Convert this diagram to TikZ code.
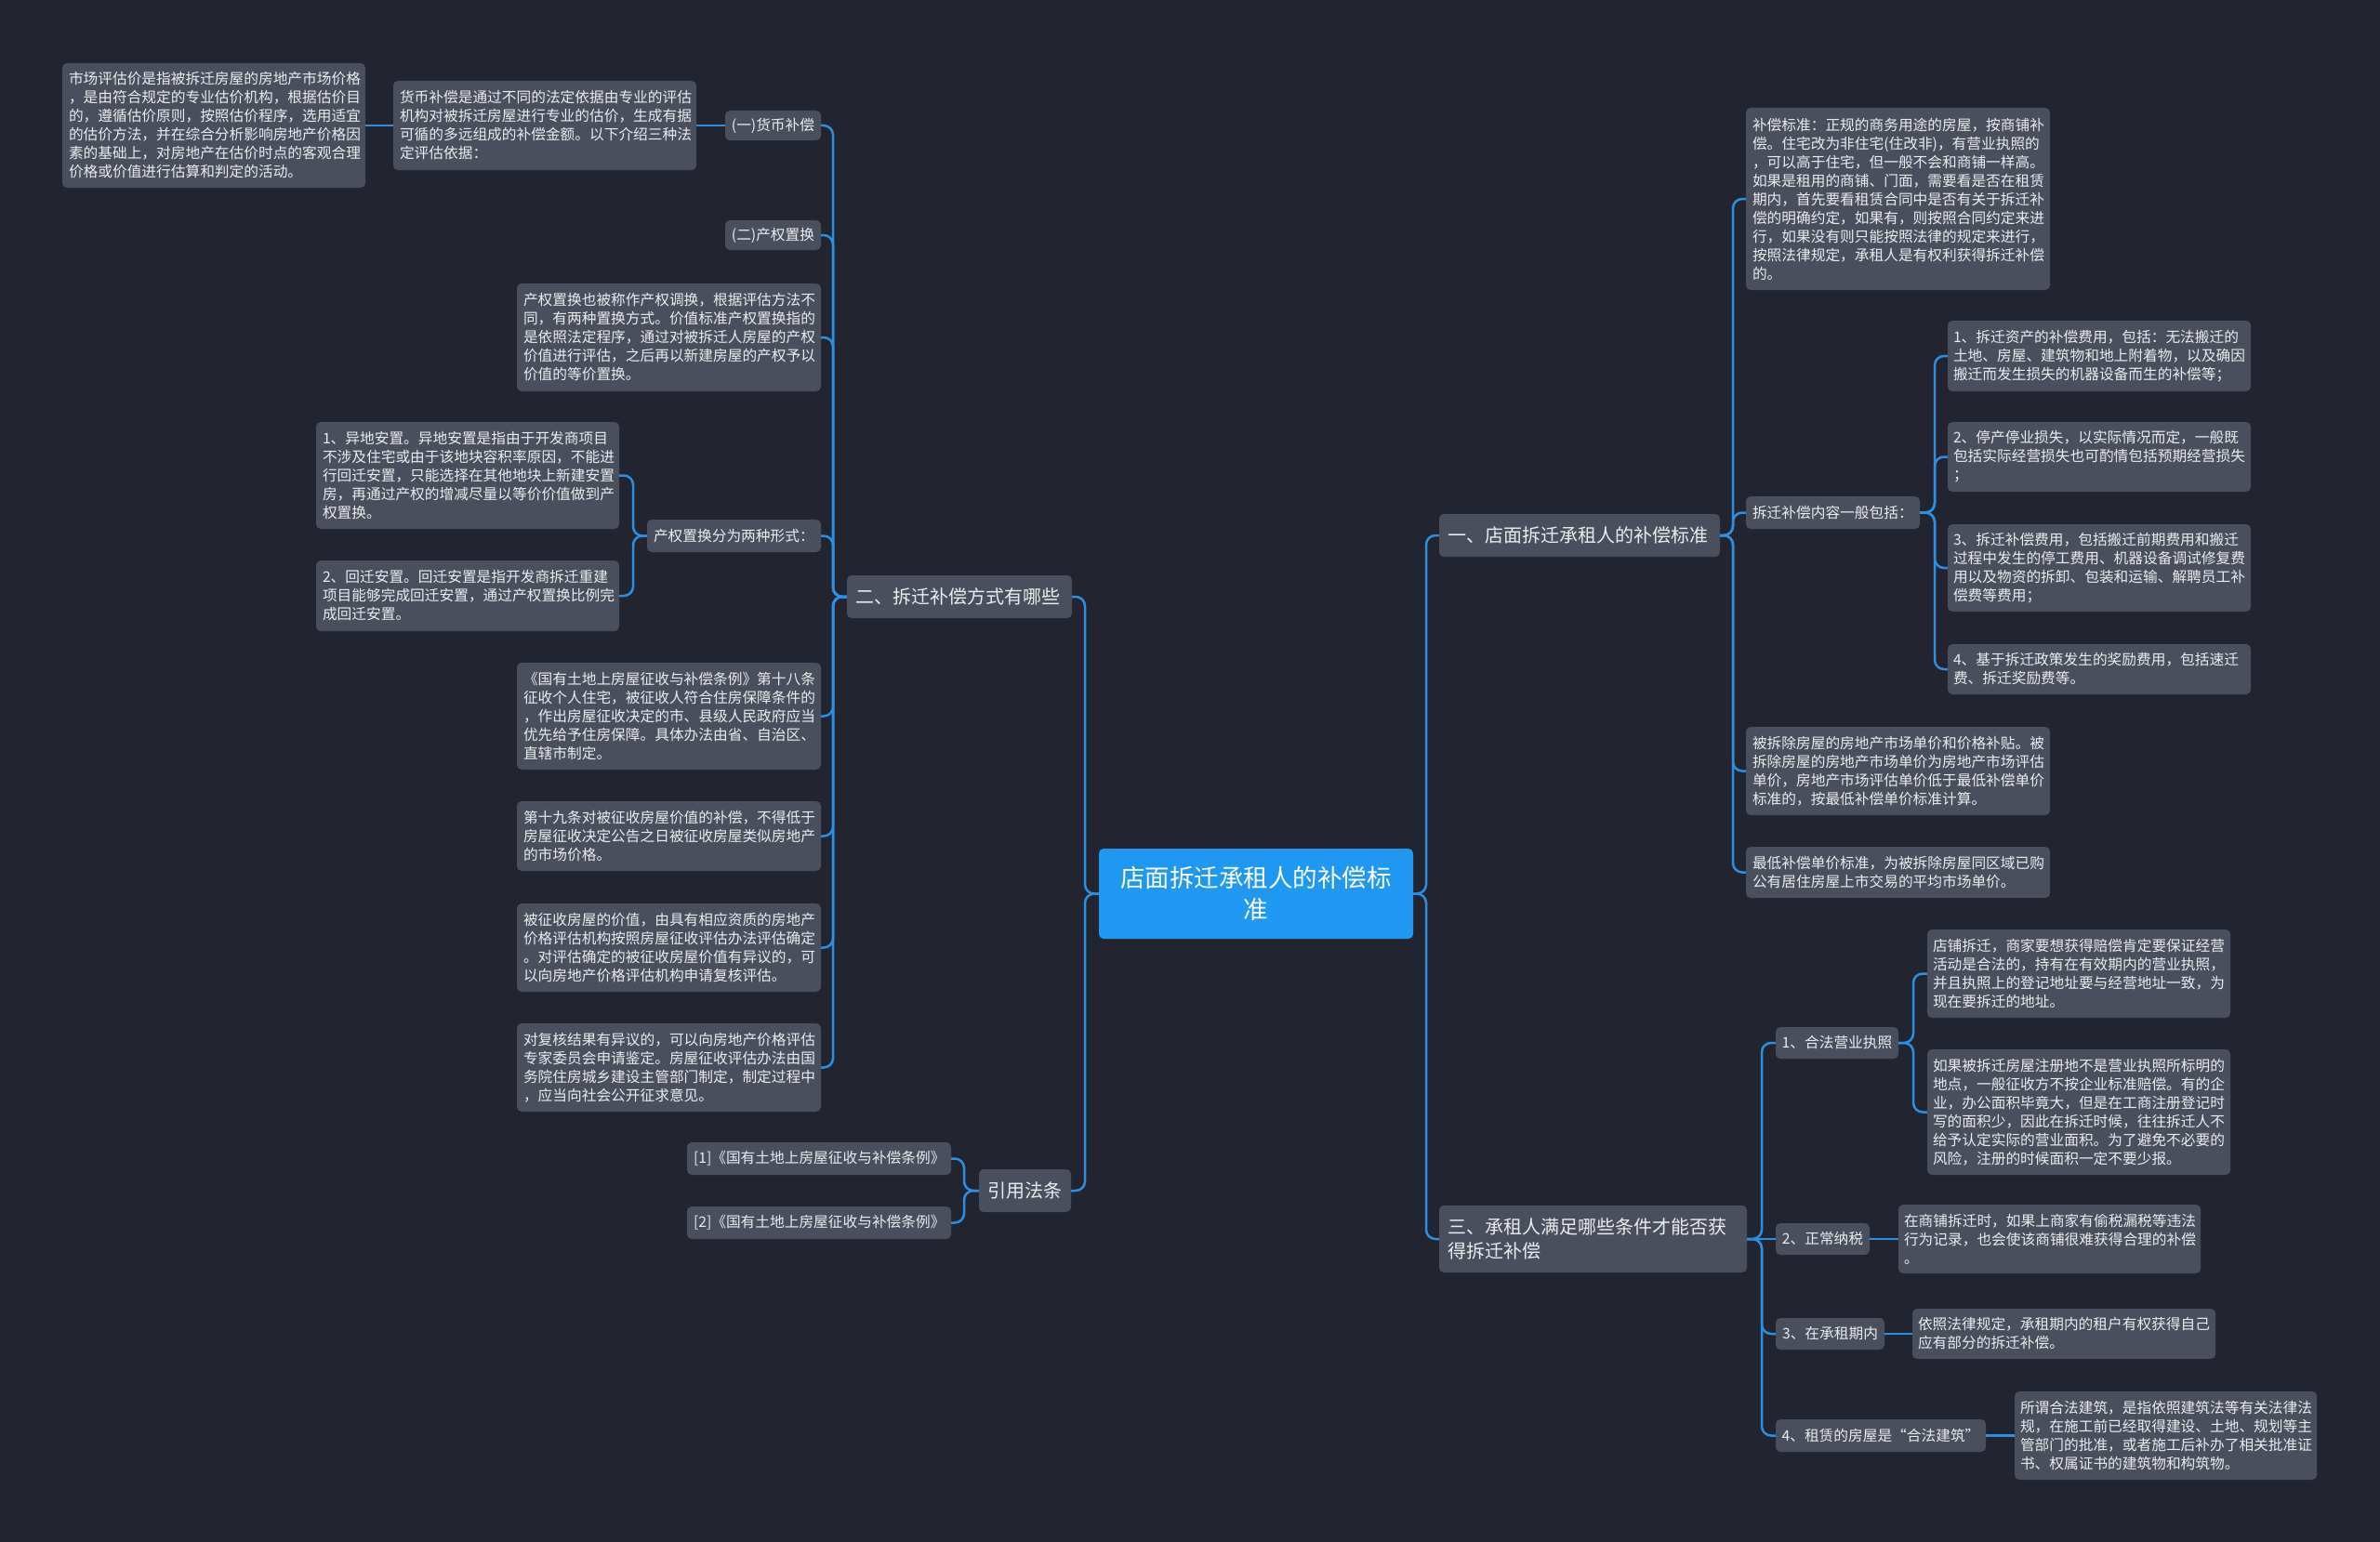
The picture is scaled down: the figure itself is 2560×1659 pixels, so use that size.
\documentclass[tikz,border=0pt]{standalone}
\usepackage{fontspec}
\newfontfamily\cjk{Noto Sans CJK SC}
\definecolor{bgc}{RGB}{34,37,47}
\definecolor{boxc}{RGB}{74,79,93}
\definecolor{linec}{RGB}{43,143,227}
\definecolor{ctrc}{RGB}{30,152,240}
\definecolor{txtc}{RGB}{236,236,238}
\tikzset{
 base/.style={rounded corners=5pt, fill=boxc, text=txtc, inner ysep=0pt},
 para/.style={base, align=left, font=\cjk\fontsize{15.7}{20}\selectfont},
 lbl/.style={base, align=center, font=\cjk\fontsize{15.7}{20}\selectfont},
 lvl/.style={base, align=left, font=\cjk\fontsize{20}{26}\selectfont},
 lvlc/.style={base, align=center, font=\cjk\fontsize{20}{26}\selectfont},
 ctr/.style={base, fill=ctrc, text=white, align=center, font=\cjk\fontsize{26.5}{34}\selectfont},
 conn/.style={draw=linec, line width=2.5pt, rounded corners=10pt},
}
% #1 style, #2 pad, #3 x1, #4 y1, #5 x2, #6 y2, #7 name, #8 text
\newcommand\mybox[8]{%
 \pgfmathsetmacro\mbW{#5-#3}\pgfmathsetmacro\mbH{#6-#4}%
 \pgfmathsetmacro\mbX{(#3+#5)/2}\pgfmathsetmacro\mbY{(#4+#6)/2}%
 \pgfmathsetmacro\mbT{#5-#3-2*#2}%
 \node[#1, inner xsep=#2pt, text width=\mbT pt, minimum width=\mbW pt, minimum height=\mbH pt] (#7) at (\mbX,\mbY) {#8};}
\begin{document}
\begin{tikzpicture}[x=1pt,y=-1pt]
\useasboundingbox (0,0) rectangle (2560,1659);
\fill[bgc] (0,0) rectangle (2560,1659);

% ---------- bus coordinates ----------
\coordinate (tL) at (1167,0);
\coordinate (tR) at (1534,0);
\coordinate (bEr) at (896,0);
\coordinate (bXs) at (681,0);
\coordinate (bYin) at (1037,0);
\coordinate (bOne) at (1864,0);
\coordinate (bNr) at (2081,0);
\coordinate (bThree) at (1895,0);
\coordinate (bLic) at (2058,0);

% ---------- centre ----------
\mybox{ctr}{10}{1182}{913}{1520}{1010}{ctr}{店面拆迁承租人的补偿标\\准}

% ---------- left side ----------
\mybox{lvl}{9}{911}{619}{1153}{665}{er}{二、拆迁补偿方式有哪些}
\mybox{lvlc}{5}{1053}{1258}{1152}{1304}{yin}{引用法条}

\mybox{lbl}{5}{780}{119}{883}{151}{yi}{(一)货币补偿}
\mybox{para}{7}{423}{87}{749}{183}{hb}{货币补偿是通过不同的法定依据由专业的评估\\机构对被拆迁房屋进行专业的估价，生成有据\\可循的多远组成的补偿金额。以下介绍三种法\\定评估依据：}
\mybox{para}{7}{67}{68}{393}{202}{mkt}{市场评估价是指被拆迁房屋的房地产市场价格\\，是由符合规定的专业估价机构，根据估价目\\的，遵循估价原则，按照估价程序，选用适宜\\的估价方法，并在综合分析影响房地产价格因\\素的基础上，对房地产在估价时点的客观合理\\价格或价值进行估算和判定的活动。}
\mybox{lbl}{5}{780}{237}{883}{269}{cq}{(二)产权置换}
\mybox{para}{7}{556}{305}{883}{421}{cqp}{产权置换也被称作产权调换，根据评估方法不\\同，有两种置换方式。价值标准产权置换指的\\是依照法定程序，通过对被拆迁人房屋的产权\\价值进行评估，之后再以新建房屋的产权予以\\价值的等价置换。}
\mybox{para}{7}{696}{559}{883}{594}{xs}{产权置换分为两种形式：}
\mybox{para}{7}{340}{454}{666}{569}{yd}{1、异地安置。异地安置是指由于开发商项目\\不涉及住宅或由于该地块容积率原因，不能进\\行回迁安置，只能选择在其他地块上新建安置\\房，再通过产权的增减尽量以等价价值做到产\\权置换。}
\mybox{para}{7}{340}{603}{666}{679}{hq}{2、回迁安置。回迁安置是指开发商拆迁重建\\项目能够完成回迁安置，通过产权置换比例完\\成回迁安置。}
\mybox{para}{7}{556}{713}{883}{828}{t18}{《国有土地上房屋征收与补偿条例》第十八条\\征收个人住宅，被征收人符合住房保障条件的\\，作出房屋征收决定的市、县级人民政府应当\\优先给予住房保障。具体办法由省、自治区、\\直辖市制定。}
\mybox{para}{7}{556}{862}{883}{937}{t19}{第十九条对被征收房屋价值的补偿，不得低于\\房屋征收决定公告之日被征收房屋类似房地产\\的市场价格。}
\mybox{para}{7}{556}{972}{883}{1067}{val}{被征收房屋的价值，由具有相应资质的房地产\\价格评估机构按照房屋征收评估办法评估确定\\。对评估确定的被征收房屋价值有异议的，可\\以向房地产价格评估机构申请复核评估。}
\mybox{para}{7}{556}{1101}{883}{1196}{rev}{对复核结果有异议的，可以向房地产价格评估\\专家委员会申请鉴定。房屋征收评估办法由国\\务院住房城乡建设主管部门制定，制定过程中\\，应当向社会公开征求意见。}
\mybox{para}{7}{739}{1229}{1023}{1264}{r1}{[1]《国有土地上房屋征收与补偿条例》}
\mybox{para}{7}{739}{1298}{1023}{1333}{r2}{[2]《国有土地上房屋征收与补偿条例》}

% ---------- right side ----------
\mybox{lvl}{9}{1548}{553}{1850}{599}{one}{一、店面拆迁承租人的补偿标准}
\mybox{lvl}{9}{1548}{1297}{1879}{1369}{three}{三、承租人满足哪些条件才能否获\\得拆迁补偿}

\mybox{para}{7}{1878}{116}{2205}{312}{bz}{补偿标准：正规的商务用途的房屋，按商铺补\\偿。住宅改为非住宅(住改非)，有营业执照的\\，可以高于住宅，但一般不会和商铺一样高。\\如果是租用的商铺、门面，需要看是否在租赁\\期内，首先要看租赁合同中是否有关于拆迁补\\偿的明确约定，如果有，则按照合同约定来进\\行，如果没有则只能按照法律的规定来进行，\\按照法律规定，承租人是有权利获得拆迁补偿\\的。}
\mybox{para}{7}{1878}{534}{2065}{569}{nr}{拆迁补偿内容一般包括：}
\mybox{para}{7}{1878}{782}{2205}{877}{bc}{被拆除房屋的房地产市场单价和价格补贴。被\\拆除房屋的房地产市场单价为房地产市场评估\\单价，房地产市场评估单价低于最低补偿单价\\标准的，按最低补偿单价标准计算。}
\mybox{para}{7}{1878}{911}{2205}{966}{zd}{最低补偿单价标准，为被拆除房屋同区域已购\\公有居住房屋上市交易的平均市场单价。}

\mybox{para}{6}{2095}{345}{2421}{421}{c1}{1、拆迁资产的补偿费用，包括：无法搬迁的\\土地、房屋、建筑物和地上附着物，以及确因\\搬迁而发生损失的机器设备而生的补偿等；}
\mybox{para}{6}{2095}{454}{2421}{529}{c2}{2、停产停业损失，以实际情况而定，一般既\\包括实际经营损失也可酌情包括预期经营损失\\；}
\mybox{para}{6}{2095}{564}{2421}{658}{c3}{3、拆迁补偿费用，包括搬迁前期费用和搬迁\\过程中发生的停工费用、机器设备调试修复费\\用以及物资的拆卸、包装和运输、解聘员工补\\偿费等费用；}
\mybox{para}{6}{2095}{693}{2421}{747}{c4}{4、基于拆迁政策发生的奖励费用，包括速迁\\费、拆迁奖励费等。}

\mybox{lbl}{5}{1910}{1105}{2042}{1139}{lic}{1、合法营业执照}
\mybox{lbl}{5}{1910}{1316}{2011}{1350}{tax}{2、正常纳税}
\mybox{lbl}{5}{1910}{1418}{2027}{1452}{term}{3、在承租期内}
\mybox{lbl}{5}{1910}{1527}{2136}{1562}{legal}{4、租赁的房屋是“合法建筑”}

\mybox{para}{6}{2073}{1000}{2399}{1095}{shop}{店铺拆迁，商家要想获得赔偿肯定要保证经营\\活动是合法的，持有在有效期内的营业执照，\\并且执照上的登记地址要与经营地址一致，为\\现在要拆迁的地址。}
\mybox{para}{6}{2073}{1129}{2399}{1264}{reg}{如果被拆迁房屋注册地不是营业执照所标明的\\地点，一般征收方不按企业标准赔偿。有的企\\业，办公面积毕竟大，但是在工商注册登记时\\写的面积少，因此在拆迁时候，往往拆迁人不\\给予认定实际的营业面积。为了避免不必要的\\风险，注册的时候面积一定不要少报。}
\mybox{para}{6}{2042}{1296}{2367}{1370}{taxd}{在商铺拆迁时，如果上商家有偷税漏税等违法\\行为记录，也会使该商铺很难获得合理的补偿\\。}
\mybox{para}{6}{2057}{1408}{2383}{1462}{termd}{依照法律规定，承租期内的租户有权获得自己\\应有部分的拆迁补偿。}
\mybox{para}{6}{2167}{1497}{2492}{1592}{legald}{所谓合法建筑，是指依照建筑法等有关法律法\\规，在施工前已经取得建设、土地、规划等主\\管部门的批准，或者施工后补办了相关批准证\\书、权属证书的建筑物和构筑物。}

% ---------- connectors ----------
\foreach \c in {er,yin}
  \draw[conn] (ctr.west) -- (ctr.west -| tL) |- (\c.east);
\foreach \c in {one,three}
  \draw[conn] (ctr.east) -- (ctr.east -| tR) |- (\c.west);
\foreach \c in {yi,cq,cqp,xs,t18,t19,val,rev}
  \draw[conn] (er.west) -- (er.west -| bEr) |- (\c.east);
\draw[conn] (yi.west) -- (hb.east);
\draw[conn] (hb.west) -- (mkt.east);
\foreach \c in {yd,hq}
  \draw[conn] (xs.west) -- (xs.west -| bXs) |- (\c.east);
\foreach \c in {r1,r2}
  \draw[conn] (yin.west) -- (yin.west -| bYin) |- (\c.east);
\foreach \c in {bz,nr,bc,zd}
  \draw[conn] (one.east) -- (one.east -| bOne) |- (\c.west);
\foreach \c in {c1,c2,c3,c4}
  \draw[conn] (nr.east) -- (nr.east -| bNr) |- (\c.west);
\foreach \c in {lic,term,legal}
  \draw[conn] (three.east) -- (three.east -| bThree) |- (\c.west);
\draw[conn] (three.east) -- (tax.west);
\foreach \c in {shop,reg}
  \draw[conn] (lic.east) -- (lic.east -| bLic) |- (\c.west);
\draw[conn] (tax.east) -- (taxd.west);
\draw[conn] (term.east) -- (termd.west);
\draw[conn] (legal.east) -- (legald.west);
\end{tikzpicture}
\end{document}
